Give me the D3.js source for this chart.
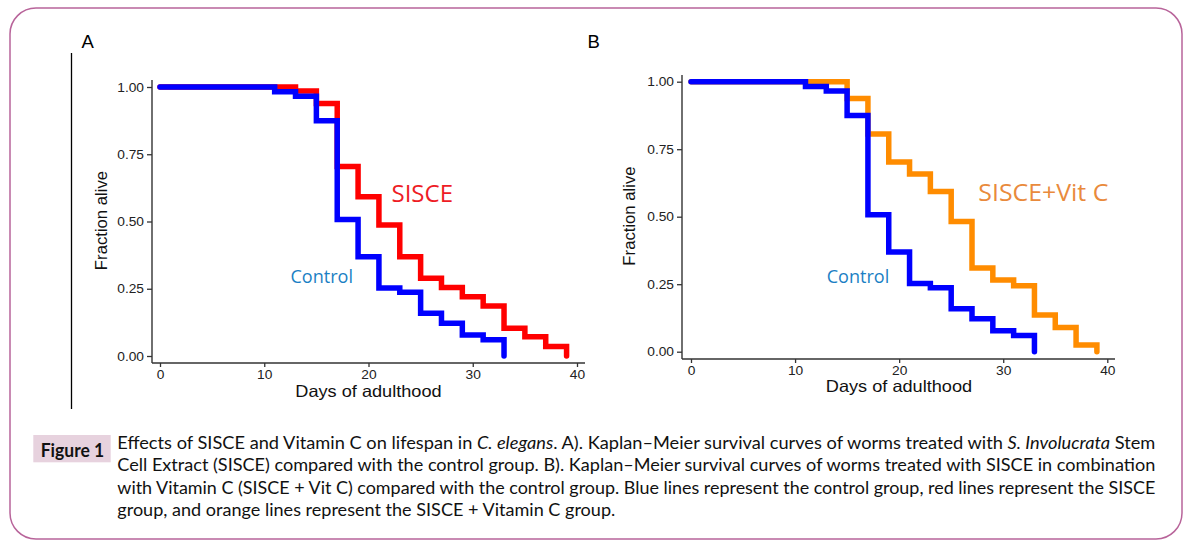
<!DOCTYPE html>
<html><head><meta charset="utf-8">
<script src="https://cdn.jsdelivr.net/npm/d3@7"></script>
<style>
html,body{margin:0;padding:0;background:#fff;}
svg{display:block;}
</style></head>
<body>
<svg id="chart" width="1190" height="551"></svg>
<script>
// ---------------- data ----------------
const controlDays   = [0, 11, 13, 15, 17, 19, 21, 23, 25, 27, 29, 31, 33];
const controlSurv   = [1.00, 0.982, 0.966, 0.875, 0.507, 0.369, 0.253, 0.237, 0.159, 0.122, 0.078, 0.060, 0.00];
const sisceDays     = [0, 13, 15, 17, 19, 21, 23, 25, 27, 29, 31, 33, 35, 37, 39];
const sisceSurv     = [1.00, 0.985, 0.939, 0.704, 0.592, 0.487, 0.369, 0.289, 0.255, 0.220, 0.186, 0.103, 0.072, 0.035, 0.00];
const vitcDays      = [0, 15, 17, 19, 21, 23, 25, 27, 29, 31, 33, 35, 37, 39];
const vitcSurv      = [1.00, 0.938, 0.806, 0.703, 0.658, 0.593, 0.482, 0.310, 0.266, 0.244, 0.136, 0.090, 0.025, 0.00];
const xTicks = [0, 10, 20, 30, 40];
const yTicks = [0.00, 0.25, 0.50, 0.75, 1.00];
const xTitle = "Days of adulthood";
const yTitle = "Fraction alive";
const captionLines = [
  [["Effects of SISCE and Vitamin C on lifespan in ", false], ["C. elegans", true], [". A). Kaplan–Meier survival curves of worms treated with ", false], ["S. Involucrata", true], [" Stem", false]],
  [["Cell Extract (SISCE) compared with the control group. B). Kaplan–Meier survival curves of worms treated with SISCE in combination", false]],
  [["with Vitamin C (SISCE + Vit C) compared with the control group. Blue lines represent the control group, red lines represent the SISCE", false]],
  [["group, and orange lines represent the SISCE + Vitamin C group.", false]]
];

const svg = d3.select("#chart");
const SX = 1.1; // horizontal stretch of chart text in the reference

// frame
svg.append("rect").attr("x", 10).attr("y", 8).attr("width", 1172).attr("height", 531)
  .attr("rx", 26).attr("ry", 26).attr("fill", "#fff").attr("stroke", "#b8649a").attr("stroke-width", 1.5);

// panel A separator line
svg.append("line").attr("x1", 71.5).attr("x2", 71.5).attr("y1", 53).attr("y2", 409)
  .attr("stroke", "#000").attr("stroke-width", 1.3);

function stretch(sel, k) {
  sel.each(function () {
    const L = this.getComputedTextLength();
    d3.select(this).attr("textLength", L * k).attr("lengthAdjust", "spacingAndGlyphs");
  });
}

function drawPanel(p) {
  const g = svg.append("g");
  const x = d3.scaleLinear().domain([0, 40]).range(p.xr);
  const y = d3.scaleLinear().domain([0, 1]).range(p.yr);

  // axis lines
  g.append("line").attr("x1", p.bx0).attr("x2", p.bx0).attr("y1", p.by0).attr("y2", p.by1)
    .attr("stroke", "#333").attr("stroke-width", 1.4);
  g.append("line").attr("x1", p.bx0).attr("x2", p.bx1).attr("y1", p.by1).attr("y2", p.by1)
    .attr("stroke", "#333").attr("stroke-width", 1.4);

  const ya = g.append("g").attr("transform", `translate(${p.bx0},0)`)
    .call(d3.axisLeft(y).tickValues(yTicks).tickFormat(d3.format(".2f")).tickSize(5).tickPadding(3));
  const xa = g.append("g").attr("transform", `translate(0,${p.by1})`)
    .call(d3.axisBottom(x).tickValues(xTicks).tickFormat(d3.format("d")).tickSize(4).tickPadding(3));
  [ya, xa].forEach(a => {
    a.select(".domain").remove();
    a.selectAll(".tick line").attr("stroke", "#333").attr("stroke-width", 1.3);
    a.selectAll(".tick text").attr("fill", "#222")
      .style("font-family", "'Liberation Sans', Arial, sans-serif").style("font-size", "12.5px");
  });
  stretch(ya.selectAll(".tick text"), SX);
  stretch(xa.selectAll(".tick text"), SX);

  // curves
  const line = d3.line().x(d => x(d[0])).y(d => y(d[1])).curve(d3.curveStepAfter);
  p.series.forEach(s => {
    const pts = s.days.map((d, i) => [d, s.surv[i]]);
    g.append("path").datum(pts).attr("d", line).attr("fill", "none")
      .attr("stroke", s.color).attr("stroke-width", 5.5)
      .attr("stroke-linecap", "round").attr("stroke-linejoin", "miter");
  });

  // titles
  const xt = g.append("text").attr("x", p.xtx).attr("y", p.xty).attr("text-anchor", "middle")
    .style("font-family", "'Liberation Sans', Arial, sans-serif").style("font-size", "16.5px")
    .attr("fill", "#111").text(xTitle);
  stretch(xt, SX);
  g.append("text").attr("transform", `translate(${p.ytx},${p.yty}) rotate(-90)`).attr("text-anchor", "middle")
    .style("font-family", "'Liberation Sans', Arial, sans-serif").style("font-size", "16.7px")
    .attr("fill", "#111").text(yTitle);

  // panel letter
  g.append("text").attr("x", p.lx).attr("y", p.ly)
    .style("font-family", "'Liberation Sans', Arial, sans-serif").style("font-size", "18.5px")
    .attr("fill", "#000").text(p.letter);

  // curve labels
  p.labels.forEach(l => {
    g.append("text").attr("x", l.x).attr("y", l.y)
      .style("font-family", "'Open Sans', 'Noto Sans', sans-serif").style("font-size", l.size + "px")
      .attr("fill", l.color).attr("textLength", l.w).attr("lengthAdjust", "spacingAndGlyphs")
      .text(l.text);
  });
}

drawPanel({
  xr: [160, 577], yr: [356, 87], bx0: 152, bx1: 585, by0: 80, by1: 363,
  xtx: 368.5, xty: 396.5, ytx: 106.5, yty: 220.5, lx: 81.5, ly: 47.5, letter: "A",
  series: [
    { days: sisceDays, surv: sisceSurv, color: "#ff0000" },
    { days: controlDays, surv: controlSurv, color: "#0000ff" }
  ],
  labels: [
    { text: "SISCE", x: 391.5, y: 201.5, size: 23, w: 61.5, color: "#ee1c25" },
    { text: "Control", x: 290.5, y: 283.3, size: 17.5, w: 62.5, color: "#1b7fc4" }
  ]
});

drawPanel({
  xr: [691, 1107.3], yr: [351.7, 81.7], bx0: 682, bx1: 1115, by0: 75, by1: 359,
  xtx: 899, xty: 391.7, ytx: 635, yty: 216, lx: 587.5, ly: 47.5, letter: "B",
  series: [
    { days: vitcDays, surv: vitcSurv, color: "#ff8c00" },
    { days: controlDays, surv: controlSurv, color: "#0000ff" }
  ],
  labels: [
    { text: "SISCE+Vit C", x: 978.3, y: 200.7, size: 23, w: 130, color: "#e98a3c" },
    { text: "Control", x: 826.7, y: 283.3, size: 17.5, w: 62.5, color: "#1b7fc4" }
  ]
});

// caption
svg.append("rect").attr("x", 33.3).attr("y", 435).attr("width", 77.4).attr("height", 27.3).attr("fill", "#e7d2de");
svg.append("text").attr("x", 40.7).attr("y", 456.5)
  .style("font-family", "Lato, 'Open Sans', sans-serif").style("font-size", "18px").style("font-weight", "bold")
  .attr("fill", "#111").attr("textLength", 63.5).attr("lengthAdjust", "spacingAndGlyphs").text("Figure 1");

const capX = 117.3, capWidths = [1038, 1038, 1038, 498];
captionLines.forEach((parts, i) => {
  const t = svg.append("text").attr("x", capX).attr("y", 448.5 + i * 22.6)
    .style("font-family", "Lato, 'Open Sans', sans-serif").style("font-size", "18px").attr("fill", "#111");
  parts.forEach(([s, it]) => {
    t.append("tspan").style("font-style", it ? "italic" : "normal").text(s);
  });
  t.attr("textLength", capWidths[i]).attr("lengthAdjust", "spacingAndGlyphs");
});
</script>
</body></html>
